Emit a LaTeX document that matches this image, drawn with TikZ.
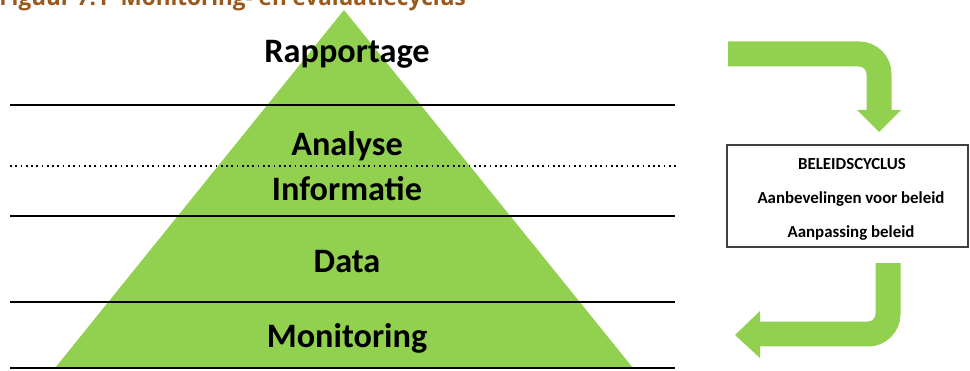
\documentclass[tikz,border=0pt]{standalone}
\usepackage{fontspec}
\setmainfont{Carlito}
\newfontfamily\titlefont{Open Sans}
\usetikzlibrary{positioning}
\definecolor{pyrgreen}{HTML}{92D050}
\definecolor{titlebrown}{RGB}{153,88,28}

\begin{document}
\begin{tikzpicture}[x=0.02cm,y=-0.02cm]
\tikzstyle{layer}=[font=\bfseries\fontsize{19.5}{22}\selectfont, inner sep=0pt]
\tikzstyle{boxtext}=[font=\bfseries\fontsize{9.6}{11}\selectfont, inner sep=0pt]
\tikzstyle{divider}=[line width=1.1pt, black]
\tikzstyle{greenband}=[line width=0.5cm, pyrgreen, rounded corners=0.4cm]
\useasboundingbox (0,0) rectangle (970,371);
\node[font=\titlefont\bfseries\fontsize{12.8}{14}\selectfont, text=titlebrown, anchor=base west, inner sep=0pt] (figuur) at (-1,6) {Figuur 7.1~~Monitoring- en evaluatiecyclus};
% pyramid
\coordinate (apex) at (344,10);
\fill[pyrgreen] (apex) -- (633,368) -- (55,368) -- cycle;
\draw[divider] (10,105) -- (675,105);
\draw[divider, line width=1pt, dotted] (10,166) -- (676,166);
\draw[divider] (10,216) -- (675,216);
\draw[divider] (10,302) -- (675,302);
\draw[divider] (10,368) -- (675,368);
\node[layer] (rapportage) at (347,54) {Rapportage};
\node[layer] (analyse) at (347,146) {Analyse};
\node[layer] (informatie) at (347,189) {Informatie};
\node[layer] (data) at (347,262) {Data};
\node[layer] (monitoring) at (347,338) {Monitoring};
% beleidscyclus
\node[draw=black!75, line width=0.8pt, minimum width=4.82cm, minimum height=2.04cm] (beleid) at (847.5,196) {};
\node[boxtext] (cyclus) at (852,164) {BELEIDSCYCLUS};
\node[boxtext] (aanbeveling) at (851,199) {Aanbevelingen voor beleid};
\node[boxtext] (aanpassing) at (851,233) {Aanpassing beleid};
\draw[greenband] (728,54) -- (879,54) -- (879,111);
\fill[pyrgreen] (857,110) -- (901,110) -- (879,132) -- cycle;
\draw[greenband] (888,263) -- (888,334) -- (759,334);
\fill[pyrgreen] (760,311) -- (760,358) -- (735,335) -- cycle;
\end{tikzpicture}
\end{document}
